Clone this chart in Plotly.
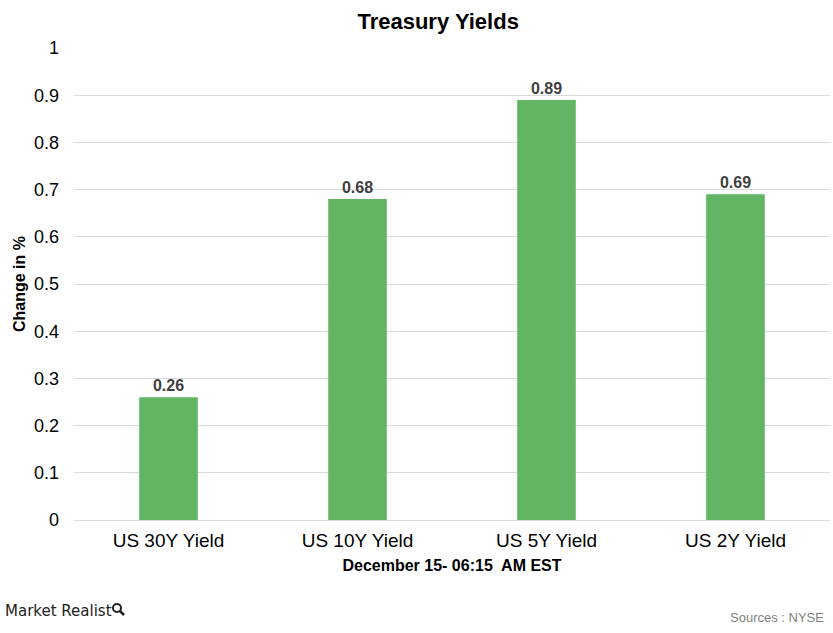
import plotly.graph_objects as go

# ── Data ──────────────────────────────────────────────────────────────────────
CATEGORIES = ["US 30Y Yield", "US 10Y Yield", "US 5Y Yield", "US 2Y Yield"]
CHANGE_PCT = [0.26, 0.68, 0.89, 0.69]
Y_TICKS = [0, 0.1, 0.2, 0.3, 0.4, 0.5, 0.6, 0.7, 0.8, 0.9, 1]

BAR_COLOR = "#62B562"
FONT = "Liberation Sans, Arial, sans-serif"

W, H = 833, 633
M_L, M_R, M_T, M_B = 74, 3, 48, 113

fig = go.Figure(go.Bar(
    x=CATEGORIES,
    y=CHANGE_PCT,
    marker=dict(color=BAR_COLOR, line=dict(width=0)),
    text=[f"{v:.2f}" for v in CHANGE_PCT],
    textposition="outside",
    textfont=dict(family=FONT, size=16, color="#404040"),
    texttemplate="<b>%{text}</b>",
    cliponaxis=False,
))

fig.update_layout(
    width=W,
    height=H,
    paper_bgcolor="white",
    plot_bgcolor="white",
    bargap=0.69,
    font=dict(family=FONT, color="black"),
    title=dict(text="<b>Treasury Yields</b>", x=0.526, xanchor="center",
               y=0.967, yanchor="middle", font=dict(size=22, color="black")),
    margin=dict(l=M_L, r=M_R, t=M_T, b=M_B),
    xaxis=dict(
        tickfont=dict(size=19, color="black"),
        showline=True, linecolor="#d9d9d9", linewidth=1,
        ticks="", showgrid=False, ticklabelstandoff=3,
        title=dict(text="<b>December 15- 06:15  AM EST</b>",
                   font=dict(size=16, color="black"), standoff=10),
    ),
    yaxis=dict(
        range=[0, 1],
        tickvals=Y_TICKS,
        ticktext=[f"{t:g}" for t in Y_TICKS],
        tickfont=dict(size=18, color="black"),
        gridcolor="#d9d9d9", gridwidth=1,
        zeroline=False, ticks="", ticklen=0, ticklabelstandoff=14,
        title=dict(text="<b>Change in %</b>",
                   font=dict(size=16, color="black"), standoff=4),
    ),
    showlegend=False,
)

# footer: pixel positions converted to paper coords
plot_h = H - M_T - M_B
plot_w = W - M_L - M_R


def px_x(x):
    return (x - M_L) / plot_w


def px_y(y):
    return -(y - (H - M_B)) / plot_h


fig.add_annotation(
    text="Market Realist", xref="paper", yref="paper",
    x=px_x(3), y=px_y(611),
    xanchor="left", yanchor="middle", showarrow=False,
    font=dict(family="DejaVu Sans, sans-serif", size=15, color="#222222"),
)
# little magnifier logo next to the brand name
fig.add_shape(type="circle", xref="paper", yref="paper",
              x0=px_x(113), x1=px_x(121), y0=px_y(612), y1=px_y(604),
              line=dict(color="#222222", width=2))
fig.add_shape(type="line", xref="paper", yref="paper",
              x0=px_x(120), x1=px_x(124), y0=px_y(611), y1=px_y(615),
              line=dict(color="#222222", width=2.5))
fig.add_annotation(
    text="Sources : NYSE", xref="paper", yref="paper",
    x=px_x(826), y=px_y(617),
    xanchor="right", yanchor="middle", showarrow=False,
    font=dict(family=FONT, size=13, color="#808080"),
)

fig.write_html("out.html", config={"displayModeBar": False},
               post_script="document.body.style.margin='0';")
